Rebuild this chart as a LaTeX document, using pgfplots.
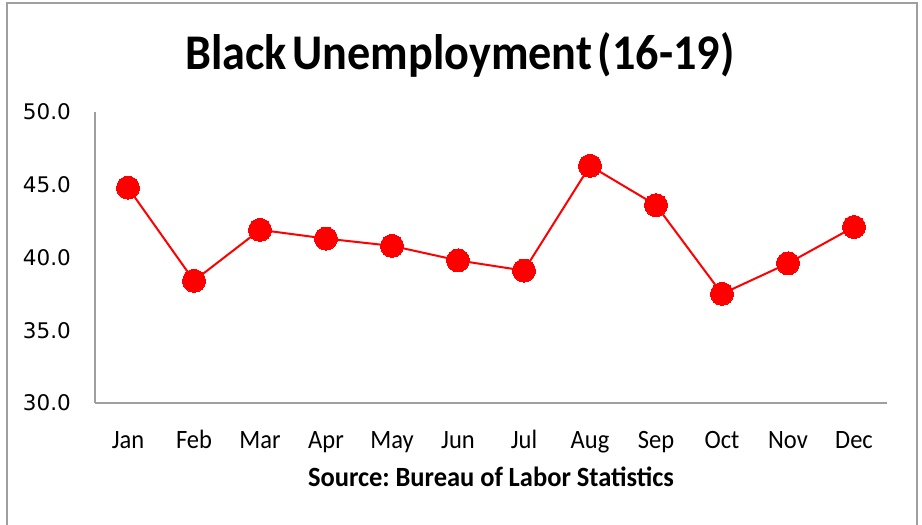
\documentclass[border=0pt]{standalone}
\usepackage{pgfplots}
\pgfplotsset{compat=1.18}
\usepackage{fontspec}
\setmainfont{Carlito}
\newfontfamily\djv{DejaVu Sans}
\frenchspacing
\begin{document}
\begin{tikzpicture}[x=1pt,y=1pt]
\path[use as bounding box] (0,0) rectangle (922,525);
\draw[gray!75, line width=1.6pt] (7,-10) -- (7,522) -- (917,522) -- (917,-10);
\node[anchor=base, yscale=1.08, font=\fontsize{46.2}{48}\selectfont\bfseries] at (460,455) {\spaceskip=0.12em Black Unemployment (16-19)};
\begin{axis}[
  at={(95pt,122pt)}, anchor=south west,
  scale only axis, width=792pt, height=291pt,
  xmin=-0.5, xmax=11.5, ymin=30, ymax=50,
  xtick={0,...,11},
  xticklabels={Jan,Feb,Mar,Apr,May,Jun,Jul,Aug,Sep,Oct,Nov,Dec},
  ytick={30,35,40,45,50},
  yticklabel={\pgfmathprintnumber[fixed,fixed zerofill,precision=1]{\tick}},
  /pgf/number format/assume math mode=true,
  axis x line=bottom, axis y line=left,
  axis line style={-, gray!75, line width=1.6pt},
  major tick length=0pt,
  xticklabel style={font=\fontsize{24.5}{26}\selectfont, anchor=base, inner sep=0pt, yshift=-46pt, yscale=1.08},
  yticklabel style={font=\djv\fontsize{21.5}{24}\selectfont, anchor=east, inner sep=0pt, xshift=-24pt},
  xlabel={\textbf{\spaceskip=0.22em Source: Bureau of Labor Statistics}},
  xlabel style={font=\fontsize{26.5}{28}\selectfont, anchor=base, at={(axis description cs:0.5,0)}, yshift=-84pt, yscale=1.05},
  clip=false,
]
\addplot[red, line width=2pt, mark=*, mark size=11.5pt, mark options={fill=red, draw=red, line width=0pt}]
coordinates {
(0,44.8) (1,38.4) (2,41.9) (3,41.3) (4,40.8) (5,39.8)
(6,39.1) (7,46.3) (8,43.6) (9,37.5) (10,39.6) (11,42.1)
};
\end{axis}
\end{tikzpicture}
\end{document}
